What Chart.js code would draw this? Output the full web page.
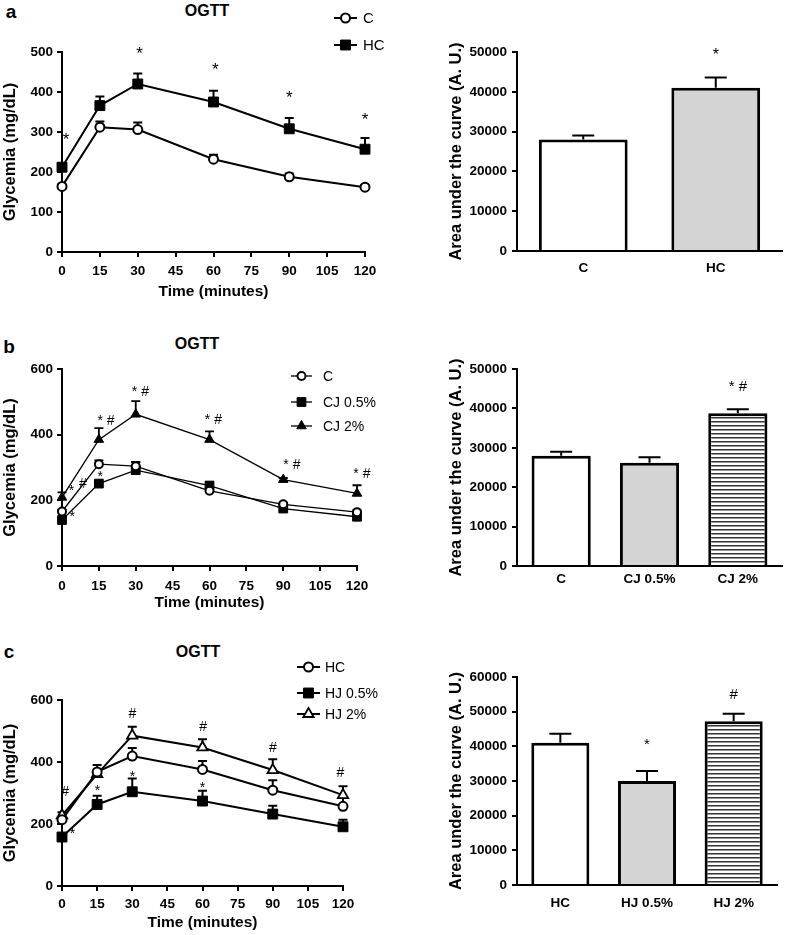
<!DOCTYPE html>
<html><head><meta charset="utf-8">
<script src="https://cdn.jsdelivr.net/npm/chart.js@4.4.1/dist/chart.umd.min.js"></script>
<style>
body{margin:0;background:#fff;width:787px;height:935px;position:relative;overflow:hidden;font-family:'Liberation Sans',Arial,sans-serif;}
canvas{position:absolute;}
.lbl{position:absolute;transform:translate(-50%,-50%);font-weight:bold;line-height:1;white-space:nowrap;color:#000;}
</style></head><body>
<div class="lbl" style="left:11px;top:11.3px;font-size:19px">a</div>
<div class="lbl" style="left:9px;top:346px;font-size:19px">b</div>
<div class="lbl" style="left:9px;top:651.3px;font-size:19px">c</div>
<div class="lbl" style="left:207px;top:11px;font-size:16px">OGTT</div>
<div class="lbl" style="left:197px;top:344px;font-size:16px">OGTT</div>
<div class="lbl" style="left:198px;top:652px;font-size:16px">OGTT</div>
<canvas id="la" width="400" height="301" style="left:0px;top:0px;width:400px;height:301px"></canvas>
<canvas id="ba" width="342" height="301" style="left:445px;top:0px;width:342px;height:301px"></canvas>
<canvas id="lb" width="400" height="292" style="left:0px;top:320px;width:400px;height:292px"></canvas>
<canvas id="bb" width="342" height="292" style="left:445px;top:320px;width:342px;height:292px"></canvas>
<canvas id="lc" width="400" height="292" style="left:0px;top:640px;width:400px;height:292px"></canvas>
<canvas id="bc" width="342" height="292" style="left:445px;top:640px;width:342px;height:292px"></canvas>
<script>
// ---------- DATA ----------
const timePoints = [0, 15, 30, 60, 90, 120];

// Panel a
const aC      = [164, 312, 306, 232, 188, 162];
const aC_err  = [5, 14, 18, 11, 8, 5];
const aHC     = [212, 366, 420, 375, 308, 257];
const aHC_err = [8, 23, 26, 28, 27, 28];
const annotA  = [{x:1.6,y:289,t:'*'},{x:30.7,y:506,t:'*'},{x:60.7,y:464,t:'*'},{x:90,y:395,t:'*'},{x:120,y:341,t:'*'}];

// Panel b
const bC        = [166, 310, 304, 229, 188, 164];
const bC_err    = [6, 12, 12, 6, 5, 5];
const bCJ05     = [140, 251, 292, 245, 175, 150];
const bCJ05_err = [5, 6, 25, 10, 5, 5];
const bCJ2      = [209, 385, 462, 385, 263, 221];
const bCJ2_err  = [15, 35, 40, 25, 5, 25];
const annotB = [
  {x:3.9,y:238,t:'*'},{x:8.5,y:253,t:'#'},{x:4.2,y:157,t:'*'},{x:15.5,y:280,t:'*'},
  {x:17.9,y:446,t:'* #'},{x:31.9,y:533,t:'* #'},{x:61.6,y:448,t:'* #'},{x:93.5,y:310,t:'* #'},{x:122,y:282,t:'* #'}
];

// Panel c
const cHC        = [214, 368, 419, 376, 309, 257];
const cHC_err    = [8, 22, 26, 27, 32, 28];
const cHJ05      = [158, 263, 304, 274, 232, 191];
const cHJ05_err  = [5, 28, 43, 33, 27, 23];
const cHJ2       = [228, 361, 485, 447, 374, 293];
const cHJ2_err   = [10, 10, 29, 26, 35, 29];
const annotC = [
  {x:1.3,y:306,t:'#'},{x:4.5,y:178,t:'*'},{x:15.2,y:315,t:'*'},
  {x:30.1,y:559,t:'#'},{x:30.1,y:361,t:'*'},{x:60.3,y:516,t:'#'},{x:60,y:325,t:'*'},
  {x:90.1,y:447,t:'#'},{x:118.9,y:368,t:'#'}
];

// AUC bars
const aucA_labels = ['C', 'HC'];
const aucA_values = [28000, 41000];
const aucA_err    = [1000, 2600];
const annotAucA   = [{x:1,y:50200,t:'*'}];

const aucB_labels = ['C', 'CJ 0.5%', 'CJ 2%'];
const aucB_values = [28000, 26200, 38800];
const aucB_err    = [1000, 1400, 1000];
const annotAucB   = [{x:2,y:45800,t:'* #'}];

const aucC_labels = ['HC', 'HJ 0.5%', 'HJ 2%'];
const aucC_values = [41000, 30000, 47200];
const aucC_err    = [2600, 2900, 2200];
const annotAucC   = [{x:1,y:41300,t:'*'},{x:2,y:55000,t:'#'}];

// ---------- PLUGINS ----------
const FAM = "'Liberation Sans', Arial, sans-serif";
Chart.defaults.font.family = FAM;
Chart.defaults.color = '#000';

function drawErr(chart, o){
  const ctx = chart.ctx, ys = chart.scales.y;
  ctx.save(); ctx.strokeStyle = '#000'; ctx.lineWidth = o.lineWidth || 2;
  chart.data.datasets.forEach((ds, i) => {
    if (!ds.errors) return;
    const meta = chart.getDatasetMeta(i);
    meta.data.forEach((el, j) => {
      const v = ds.data[j]; const val = (typeof v === 'object') ? v.y : v;
      const top = ys.getPixelForValue(val + ds.errors[j]);
      ctx.beginPath();
      ctx.moveTo(el.x, el.y); ctx.lineTo(el.x, top);
      ctx.moveTo(el.x - o.cap, top); ctx.lineTo(el.x + o.cap, top);
      ctx.stroke();
    });
  });
  ctx.restore();
}
const errPlugin = {
  id: 'errBars',
  beforeDatasetsDraw(chart, a, o){ if (o.behind) drawErr(chart, o); },
  afterDatasetsDraw(chart, a, o){ if (!o.behind) drawErr(chart, o); }
};
const annPlugin = {
  id: 'ann',
  afterDatasetsDraw(chart, a, o){
    if (!o.items) return;
    const ctx = chart.ctx, xs = chart.scales.x, ys = chart.scales.y;
    ctx.save(); ctx.fillStyle = '#000'; ctx.font = o.font; ctx.textAlign = 'center'; ctx.textBaseline = 'alphabetic';
    o.items.forEach(it => {
      const px = xs.getPixelForValue(it.x), py = ys.getPixelForValue(it.y);
      const m = ctx.measureText(it.t);
      ctx.fillText(it.t, px, py + (m.actualBoundingBoxAscent - m.actualBoundingBoxDescent) / 2);
    });
    ctx.restore();
  }
};
function drawMarker(ctx, style, x, y, r, fill, bw){
  ctx.save(); ctx.fillStyle = fill; ctx.strokeStyle = '#000'; ctx.lineWidth = bw;
  ctx.beginPath();
  if (style === 'circle') ctx.arc(x, y, r, 0, Math.PI * 2);
  else if (style === 'rect') { const s = Math.SQRT1_2 * r; ctx.rect(x - s, y - s, 2 * s, 2 * s); }
  else if (style === 'triangle') {
    for (let k = 0; k < 3; k++) { const an = k * 2 * Math.PI / 3; const px = x + Math.sin(an) * r, py = y - Math.cos(an) * r; if (k) ctx.lineTo(px, py); else ctx.moveTo(px, py); }
    ctx.closePath();
  }
  ctx.fill(); if (bw > 0) ctx.stroke(); ctx.restore();
}
const legPlugin = {
  id: 'customLegend',
  afterDraw(chart, a, o){
    if (!o.rows) return;
    const ctx = chart.ctx;
    chart.data.datasets.forEach((ds, i) => {
      const y = o.rows[i];
      ctx.save();
      ctx.strokeStyle = '#000'; ctx.lineWidth = ds.borderWidth;
      ctx.beginPath(); ctx.moveTo(o.x0, y); ctx.lineTo(o.x1, y); ctx.stroke();
      drawMarker(ctx, ds.pointStyle, (o.x0 + o.x1) / 2, y, ds.pointRadius, ds.pointBackgroundColor, ds.pointBorderWidth);
      ctx.fillStyle = '#000'; ctx.font = o.font; ctx.textAlign = 'left'; ctx.textBaseline = 'alphabetic';
      const cap = ctx.measureText('H').actualBoundingBoxAscent;
      ctx.fillText(ds.label, o.tx, y + cap / 2);
      ctx.restore();
    });
  }
};

function axisCommon(){
  return {
    grid: {display: true, drawOnChartArea: false, drawTicks: true, tickLength: 5, color: '#000', lineWidth: 2},
    border: {display: true, color: '#000', width: 2}
  };
}

function series(label, vals, errs, style, radius, fill, lw, pbw){
  return {
    label, data: timePoints.map((t, i) => ({x: t, y: vals[i]})), errors: errs,
    borderColor: '#000', borderWidth: lw, pointStyle: style, pointRadius: radius,
    pointBackgroundColor: fill, pointBorderColor: '#000', pointBorderWidth: pbw, fill: false, tension: 0,
    clip: false
  };
}

function lineChart(id, datasets, o){
  const ax = axisCommon(), ay = axisCommon();
  return new Chart(document.getElementById(id), {
    type: 'line',
    data: {datasets},
    options: {
      responsive: false, animation: false, devicePixelRatio: 1,
      layout: {padding: {left: 0, top: o.padT, right: o.padR, bottom: 0}},
      scales: {
        x: Object.assign(ax, {
          type: 'linear', min: 0, max: 120,
          afterFit: s => { s.height = o.xH; },
          ticks: {stepSize: 15, autoSkip: false, maxRotation: 0, padding: o.xPad, color: '#000', font: {size: 13.5, weight: 'bold'}},
          title: {display: true, text: 'Time (minutes)', color: '#000', font: {size: 15.5, weight: 'bold'}, padding: {top: 0, bottom: 0}}
        }),
        y: Object.assign(ay, {
          min: 0, max: o.yMax,
          afterFit: s => { s.width = 62; },
          ticks: {stepSize: o.yStep, padding: 4, color: '#000', font: {size: 13.5, weight: 'bold'}, callback: v => String(v)},
          title: {display: true, text: 'Glycemia (mg/dL)', color: '#000', font: {size: 16.5, weight: 'bold'}, padding: {top: 1, bottom: 0}}
        })
      },
      plugins: {
        legend: {display: false}, tooltip: {enabled: false}, title: {display: false},
        errBars: {behind: true, cap: 4.5, lineWidth: o.errLw},
        ann: {items: o.ann, font: o.annFont},
        customLegend: o.legend
      }
    },
    plugins: [errPlugin, annPlugin, legPlugin]
  });
}

function hatch(){
  const c = document.createElement('canvas'); c.width = 8; c.height = 4;
  const g = c.getContext('2d');
  g.fillStyle = '#fff'; g.fillRect(0, 0, 8, 4);
  g.fillStyle = '#333'; g.fillRect(0, 1, 8, 1);
  g.fillStyle = '#999'; g.fillRect(0, 2, 8, 1);
  return g.createPattern(c, 'repeat');
}

function barChart(id, labels, values, errs, fills, o){
  const ay = axisCommon();
  return new Chart(document.getElementById(id), {
    type: 'bar',
    data: {labels, datasets: [{data: values, errors: errs, backgroundColor: fills, borderColor: '#000', borderWidth: 3, borderSkipped: 'start', categoryPercentage: 1, barPercentage: 0.67}]},
    options: {
      responsive: false, animation: false, devicePixelRatio: 1,
      layout: {padding: {left: 0, top: o.padT, right: o.padR, bottom: 0}},
      scales: {
        x: {
          afterFit: s => { s.height = o.xH; },
          grid: {display: false, drawTicks: false},
          border: {display: true, color: '#000', width: 2},
          ticks: {padding: o.xPad, color: '#000', font: {size: 13.5, weight: 'bold'}}
        },
        y: Object.assign(ay, {
          min: 0, max: o.yMax,
          afterFit: s => { s.width = 72; },
          ticks: {stepSize: 10000, padding: 5, color: '#000', font: {size: 13.5, weight: 'bold'}, callback: v => String(v)},
          title: {display: true, text: 'Area under the curve (A. U.)', color: '#000', font: {size: 16.5, weight: 'bold'}, padding: {top: 2, bottom: 0}}
        })
      },
      plugins: {
        legend: {display: false}, tooltip: {enabled: false}, title: {display: false},
        errBars: {behind: false, cap: 11, lineWidth: 2},
        ann: {items: o.ann, font: o.annFont}
      }
    },
    plugins: [errPlugin, annPlugin]
  });
}

const GRAY = '#d4d4d4';
const HATCH = hatch();

// Panel a
lineChart('la', [
  series('C', aC, aC_err, 'circle', 4.5, '#fff', 2, 2),
  series('HC', aHC, aHC_err, 'rect', 7, '#000', 2, 1)
], {padT: 52, padR: 35, xH: 49, xPad: 6.5, yMax: 500, yStep: 100, errLw: 2, ann: annotA, annFont: '17px ' + FAM,
    legend: {x0: 334, x1: 357, tx: 363, rows: [18, 45], font: '15px ' + FAM}});
barChart('ba', aucA_labels, aucA_values, aucA_err, ['#fff', GRAY],
  {padT: 52, padR: 5, xH: 50, xPad: 9, yMax: 50000, ann: annotAucA, annFont: '16px ' + FAM});

// Panel b
lineChart('lb', [
  series('C', bC, bC_err, 'circle', 4, '#fff', 1.3, 2),
  series('CJ 0.5%', bCJ05, bCJ05_err, 'rect', 6.2, '#000', 1.3, 1),
  series('CJ 2%', bCJ2, bCJ2_err, 'triangle', 5.5, '#000', 1.3, 1)
], {padT: 49, padR: 43, xH: 46, xPad: 7, yMax: 600, yStep: 200, errLw: 1.8, ann: annotB, annFont: '14px ' + FAM,
    legend: {x0: 291, x1: 312, tx: 323, rows: [56, 82, 106], font: '14px ' + FAM}});
barChart('bb', aucB_labels, aucB_values, aucB_err, ['#fff', GRAY, HATCH],
  {padT: 49, padR: 5, xH: 46, xPad: 5, yMax: 50000, ann: annotAucB, annFont: '15px ' + FAM});

// Panel c
lineChart('lc', [
  series('HC', cHC, cHC_err, 'circle', 4.5, '#fff', 2, 2),
  series('HJ 0.5%', cHJ05, cHJ05_err, 'rect', 7, '#000', 2, 1),
  series('HJ 2%', cHJ2, cHJ2_err, 'triangle', 6, '#fff', 2, 1.8)
], {padT: 60, padR: 57, xH: 46, xPad: 5, yMax: 600, yStep: 200, errLw: 2, ann: annotC, annFont: '14px ' + FAM,
    legend: {x0: 297, x1: 320, tx: 325, rows: [27, 53, 74], font: '14px ' + FAM}});
barChart('bc', aucC_labels, aucC_values, aucC_err, ['#fff', GRAY, HATCH],
  {padT: 37, padR: 10, xH: 47, xPad: 10, yMax: 60000, ann: annotAucC, annFont: '15px ' + FAM});
</script>
</body></html>
